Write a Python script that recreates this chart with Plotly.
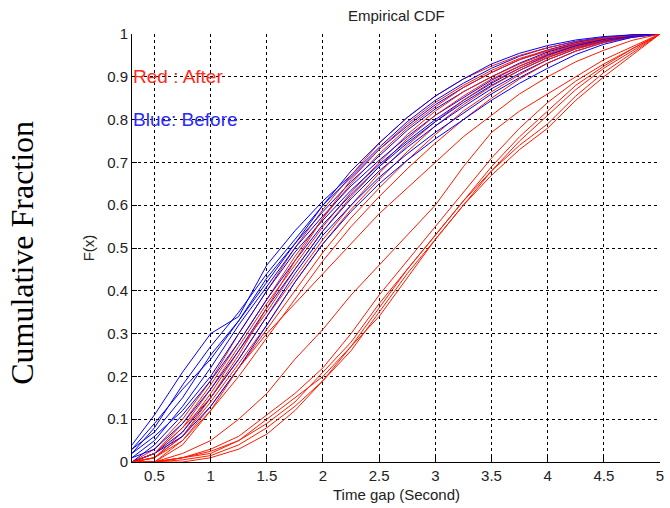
import plotly.graph_objects as go

# common x grid (seconds)
x_grid = [0.3, 0.5, 0.75, 1.0, 1.25, 1.5, 1.75, 2.0, 2.25, 2.5, 2.75, 3.0,
          3.25, 3.5, 3.75, 4.0, 4.25, 4.5, 4.75, 5.0]

# Blue: Before
blue_curves = [
    [0.04, 0.11, 0.21, 0.30, 0.34, 0.46, 0.54, 0.61, 0.67, 0.735, 0.795, 0.845, 0.885, 0.92, 0.948, 0.968, 0.983, 0.992, 0.998, 1.0],
    [0.02, 0.08, 0.18, 0.27, 0.35, 0.44, 0.52, 0.60, 0.665, 0.73, 0.785, 0.835, 0.875, 0.91, 0.94, 0.963, 0.98, 0.99, 0.997, 1.0],
    [0.03, 0.07, 0.15, 0.25, 0.33, 0.43, 0.51, 0.585, 0.655, 0.715, 0.775, 0.825, 0.865, 0.90, 0.932, 0.958, 0.976, 0.989, 0.997, 1.0],
    [0.01, 0.05, 0.13, 0.22, 0.32, 0.41, 0.50, 0.575, 0.645, 0.705, 0.76, 0.81, 0.852, 0.892, 0.925, 0.952, 0.973, 0.987, 0.996, 1.0],
    [0.02, 0.06, 0.12, 0.20, 0.30, 0.40, 0.49, 0.565, 0.635, 0.695, 0.75, 0.80, 0.845, 0.885, 0.92, 0.95, 0.972, 0.987, 0.996, 1.0],
    [0.00, 0.04, 0.11, 0.19, 0.28, 0.38, 0.47, 0.555, 0.625, 0.69, 0.745, 0.795, 0.84, 0.88, 0.915, 0.945, 0.968, 0.984, 0.995, 1.0],
    [0.01, 0.03, 0.09, 0.17, 0.26, 0.36, 0.45, 0.54, 0.615, 0.68, 0.735, 0.785, 0.83, 0.872, 0.908, 0.94, 0.965, 0.983, 0.995, 1.0],
    [0.00, 0.02, 0.07, 0.15, 0.24, 0.34, 0.44, 0.53, 0.60, 0.665, 0.72, 0.77, 0.815, 0.86, 0.898, 0.932, 0.96, 0.98, 0.994, 1.0],
    [0.00, 0.02, 0.06, 0.13, 0.22, 0.32, 0.42, 0.51, 0.585, 0.65, 0.705, 0.755, 0.80, 0.845, 0.885, 0.92, 0.952, 0.976, 0.992, 1.0],
    [0.03, 0.09, 0.17, 0.24, 0.33, 0.42, 0.51, 0.60, 0.68, 0.745, 0.805, 0.855, 0.895, 0.93, 0.955, 0.973, 0.986, 0.994, 0.998, 1.0],
]

# Red: After (main group)
red_main = [
    [0.0, 0.03, 0.10, 0.19, 0.30, 0.40, 0.50, 0.59, 0.67, 0.745, 0.805, 0.855, 0.895, 0.925, 0.95, 0.968, 0.982, 0.991, 0.997, 1.0],
    [0.0, 0.02, 0.09, 0.18, 0.28, 0.38, 0.48, 0.57, 0.65, 0.72, 0.78, 0.83, 0.875, 0.91, 0.94, 0.96, 0.977, 0.99, 0.996, 1.0],
    [0.0, 0.02, 0.08, 0.17, 0.27, 0.37, 0.46, 0.55, 0.63, 0.70, 0.765, 0.82, 0.865, 0.90, 0.93, 0.955, 0.975, 0.988, 0.996, 1.0],
    [0.0, 0.01, 0.07, 0.16, 0.26, 0.35, 0.45, 0.54, 0.62, 0.69, 0.755, 0.81, 0.855, 0.895, 0.925, 0.952, 0.972, 0.986, 0.995, 1.0],
    [0.0, 0.01, 0.06, 0.15, 0.24, 0.34, 0.43, 0.52, 0.60, 0.675, 0.74, 0.795, 0.845, 0.888, 0.92, 0.948, 0.97, 0.985, 0.995, 1.0],
    [0.0, 0.01, 0.06, 0.14, 0.23, 0.32, 0.42, 0.51, 0.59, 0.66, 0.725, 0.785, 0.835, 0.878, 0.915, 0.945, 0.968, 0.984, 0.994, 1.0],
    [0.0, 0.00, 0.05, 0.13, 0.22, 0.31, 0.40, 0.49, 0.57, 0.64, 0.705, 0.765, 0.82, 0.865, 0.905, 0.94, 0.965, 0.982, 0.993, 1.0],
    [0.0, 0.00, 0.04, 0.12, 0.20, 0.29, 0.38, 0.47, 0.55, 0.62, 0.685, 0.745, 0.80, 0.85, 0.895, 0.932, 0.96, 0.98, 0.992, 1.0],
    [0.0, 0.02, 0.08, 0.15, 0.25, 0.36, 0.47, 0.57, 0.66, 0.73, 0.79, 0.84, 0.88, 0.915, 0.943, 0.962, 0.978, 0.99, 0.997, 1.0],
]

# Red: After (intermediate and shifted group)
red_late = [
    [0.0, 0.01, 0.05, 0.12, 0.22, 0.30, 0.37, 0.44, 0.51, 0.58, 0.64, 0.70, 0.76, 0.81, 0.86, 0.90, 0.935, 0.962, 0.985, 1.0],
    [0.0, 0.00, 0.02, 0.05, 0.10, 0.16, 0.24, 0.31, 0.39, 0.46, 0.53, 0.60, 0.69, 0.77, 0.82, 0.86, 0.90, 0.94, 0.97, 1.0],
    [0.0, 0.00, 0.01, 0.03, 0.06, 0.11, 0.16, 0.22, 0.30, 0.39, 0.47, 0.55, 0.63, 0.71, 0.78, 0.84, 0.89, 0.93, 0.965, 1.0],
    [0.0, 0.00, 0.01, 0.025, 0.05, 0.09, 0.14, 0.21, 0.28, 0.37, 0.45, 0.53, 0.61, 0.69, 0.76, 0.82, 0.88, 0.925, 0.965, 1.0],
    [0.0, 0.00, 0.005, 0.015, 0.04, 0.08, 0.13, 0.19, 0.26, 0.35, 0.44, 0.52, 0.60, 0.68, 0.75, 0.81, 0.87, 0.92, 0.96, 1.0],
    [0.0, 0.00, 0.00, 0.01, 0.03, 0.065, 0.12, 0.19, 0.27, 0.36, 0.45, 0.53, 0.61, 0.68, 0.74, 0.79, 0.855, 0.91, 0.955, 1.0],
    [0.0, 0.00, 0.01, 0.02, 0.05, 0.10, 0.15, 0.20, 0.27, 0.34, 0.43, 0.52, 0.60, 0.67, 0.73, 0.78, 0.845, 0.90, 0.95, 1.0],
]

x_ticks = [0.5, 1, 1.5, 2, 2.5, 3, 3.5, 4, 4.5, 5]
x_tick_labels = ["0.5", "1", "1.5", "2", "2.5", "3", "3.5", "4", "4.5", "5"]
y_ticks = [0, 0.1, 0.2, 0.3, 0.4, 0.5, 0.6, 0.7, 0.8, 0.9, 1]
y_tick_labels = ["0", "0.1", "0.2", "0.3", "0.4", "0.5", "0.6", "0.7", "0.8", "0.9", "1"]

BLUE = "#0000ff"
RED = "#ff1a00"

fig = go.Figure()

def add(vals, color):
    fig.add_trace(go.Scatter(x=x_grid, y=vals, mode="lines",
                             line=dict(color=color, width=1),
                             showlegend=False, hoverinfo="skip"))

n = max(len(blue_curves), len(red_main))
for i in range(n):
    if i < len(blue_curves):
        add(blue_curves[i], BLUE)
    if i < len(red_main):
        add(red_main[i], RED)
for c in red_late:
    add(c, RED)

axis_font = dict(family="Arial, Liberation Sans, sans-serif", size=15, color="#222")

fig.update_layout(
    width=670, height=508,
    margin=dict(l=132, r=6, t=34, b=46),
    paper_bgcolor="white", plot_bgcolor="white",
    font=axis_font,
    xaxis=dict(range=[0.3, 5.0], tickvals=x_ticks, ticktext=x_tick_labels,
               showgrid=True, gridcolor="black", gridwidth=1, griddash="3px,3px",
               showline=True, linecolor="black", linewidth=1,
               ticks="inside", ticklen=5, tickcolor="black",
               zeroline=False, tickfont=axis_font),
    yaxis=dict(range=[0, 1.0], tickvals=y_ticks, ticktext=y_tick_labels,
               showgrid=True, gridcolor="black", gridwidth=1, griddash="3px,3px",
               showline=True, linecolor="black", linewidth=1,
               ticks="inside", ticklen=5, tickcolor="black",
               zeroline=False, tickfont=axis_font),
)

annotations = [
    dict(text="Empirical CDF", xref="paper", yref="paper", x=0.5, y=(462 - 16) / 428,
         showarrow=False, xanchor="center", yanchor="middle", font=dict(family="Arial", size=15, color="#222")),
    dict(text="Time gap (Second)", xref="paper", yref="paper", x=0.5, y=(462 - 495) / 428,
         showarrow=False, xanchor="center", yanchor="middle", font=dict(family="Arial", size=15, color="#222")),
    dict(text="F(x)", xref="paper", yref="paper", x=(88 - 132) / 532, y=(462 - 248) / 428,
         showarrow=False, xanchor="center", yanchor="middle", textangle=-90,
         font=dict(family="Arial", size=15, color="#222")),
    dict(text="Cumulative Fraction", xref="paper", yref="paper", x=(21 - 132) / 532, y=(462 - 253) / 428,
         showarrow=False, xanchor="center", yanchor="middle", textangle=-90,
         font=dict(family="Liberation Serif, Times New Roman, serif", size=32, color="black")),
    dict(text="Red : After", xref="x", yref="y", x=0.3, y=0.9, showarrow=False,
         xanchor="left", yanchor="middle", xshift=-1,
         font=dict(family="Arial", size=19, color="#ff2a1a")),
    dict(text="Blue: Before", xref="x", yref="y", x=0.3, y=0.8, showarrow=False,
         xanchor="left", yanchor="middle", xshift=-1,
         font=dict(family="Arial", size=19, color="#2a2aff")),
]
fig.update_layout(annotations=annotations)

fig.write_html("out.html")
